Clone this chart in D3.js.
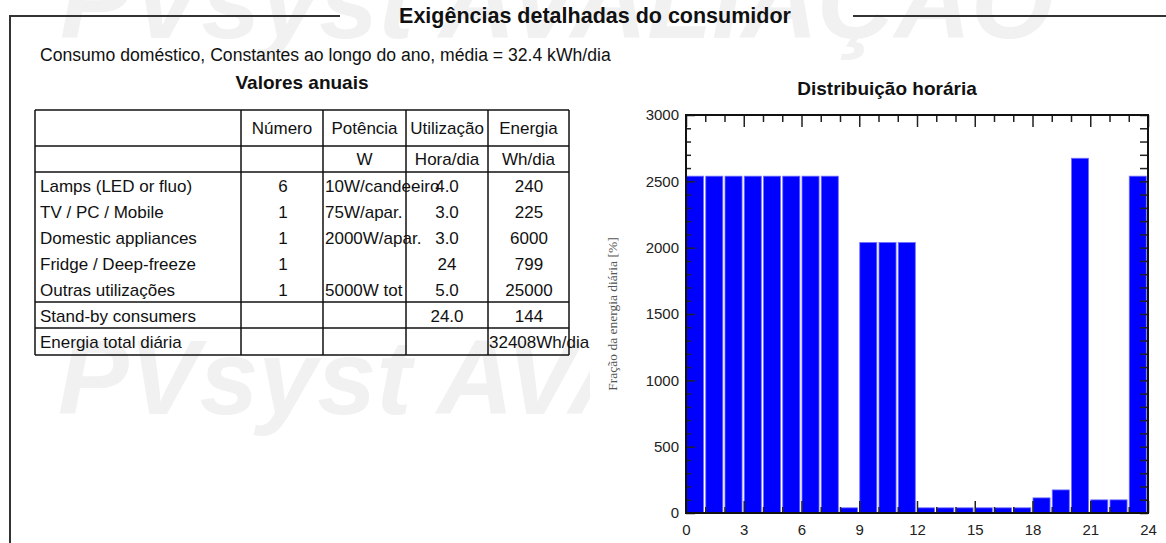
<!DOCTYPE html>
<html>
<head>
<meta charset="utf-8">
<script src="https://cdn.jsdelivr.net/npm/d3@7"></script>
<style>
  html, body { margin: 0; padding: 0; background: #fff; }
  svg { display: block; font-family: "Liberation Sans", Arial, sans-serif; }
</style>
</head>
<body>
<svg id="page" width="1166" height="543"></svg>
<script>
// Hourly consumption profile (values per hour of day)
const hours = d3.range(24);
const hourlyValues = [2539, 2539, 2539, 2539, 2539, 2539, 2539, 2539, 39, 2039, 2039, 2039,
                      39, 39, 39, 39, 39, 39, 114, 174, 2674, 99, 99, 2539];
const xTickValues = [0, 3, 6, 9, 12, 15, 18, 21, 24];
const yTickValues = [0, 500, 1000, 1500, 2000, 2500, 3000];

// Appliance table
const headerCols = ["", "Número", "Potência", "Utilização", "Energia"];
const unitCols = ["", "", "W", "Hora/dia", "Wh/dia"];
const appliances = ["Lamps (LED or fluo)", "TV / PC / Mobile", "Domestic appliances", "Fridge / Deep-freeze", "Outras utilizações"];
const counts = ["6", "1", "1", "1", "1"];
const powers = ["10W/candeeiro", "75W/apar.", "2000W/apar.", "", "5000W tot"];
const usageHours = ["4.0", "3.0", "3.0", "24", "5.0"];
const energies = ["240", "225", "6000", "799", "25000"];
const standby = { label: "Stand-by consumers", usage: "24.0", energy: "144" };
const total = { label: "Energia total diária", energy: "32408Wh/dia" };

const svg = d3.select("#page");
svg.append("rect").attr("width", 1166).attr("height", 543).attr("fill", "#fff");

// Faint background watermark
const wm = svg.append("g")
  .attr("font-size", 106).attr("font-weight", "bold").attr("font-style", "italic")
  .attr("fill", "#f1f1f1");
wm.append("text").attr("x", 60).attr("y", 38).text("PVsyst AVALIAÇÃO");
wm.append("text").attr("x", 58).attr("y", 414).text("PVsyst AVALIAÇÃO");

// Section frame with title
const frame = svg.append("g").attr("stroke", "#333").attr("stroke-width", 2).attr("fill", "none");
frame.append("path").attr("d", "M10,543 V16 H340");
frame.append("path").attr("d", "M853,16 H1166");
svg.append("text").attr("x", 595).attr("y", 23).attr("text-anchor", "middle")
  .attr("font-size", 21.5).attr("font-weight", "bold").attr("fill", "#111")
  .text("Exigências detalhadas do consumidor");

svg.append("text").attr("x", 40).attr("y", 61).attr("font-size", 17.6).attr("fill", "#111")
  .text("Consumo doméstico, Constantes ao longo do ano, média = 32.4 kWh/dia");

svg.append("text").attr("x", 302).attr("y", 89).attr("text-anchor", "middle")
  .attr("font-size", 19).attr("font-weight", "bold").attr("fill", "#111")
  .text("Valores anuais");

// ---- Table ----
const colX = [35, 241, 323, 406, 488, 569];
const rowY = [110, 146, 172, 302, 328, 355];
const tbl = svg.append("g").attr("font-size", 17).attr("fill", "#111");
const grid = tbl.append("g").attr("stroke", "#111").attr("stroke-width", 1.5);
rowY.forEach(y => grid.append("line").attr("x1", colX[0]).attr("x2", colX[5]).attr("y1", y).attr("y2", y));
colX.forEach(x => grid.append("line").attr("x1", x).attr("x2", x).attr("y1", rowY[0]).attr("y2", rowY[5]));

const colMid = i => (colX[i] + colX[i + 1]) / 2;
headerCols.forEach((t, i) => {
  if (t) tbl.append("text").attr("x", colMid(i)).attr("y", 134).attr("text-anchor", "middle").text(t);
});
unitCols.forEach((t, i) => {
  if (t) tbl.append("text").attr("x", colMid(i)).attr("y", 165).attr("text-anchor", "middle").text(t);
});
const rowBase = i => 192 + i * 26;
appliances.forEach((name, i) => {
  const y = rowBase(i);
  tbl.append("text").attr("x", 40).attr("y", y).text(name);
  tbl.append("text").attr("x", 283).attr("y", y).attr("text-anchor", "middle").text(counts[i]);
  tbl.append("text").attr("x", 325).attr("y", y).text(powers[i]);
  tbl.append("text").attr("x", 447).attr("y", y).attr("text-anchor", "middle").text(usageHours[i]);
  tbl.append("text").attr("x", 529).attr("y", y).attr("text-anchor", "middle").text(energies[i]);
});
tbl.append("text").attr("x", 40).attr("y", 322).text(standby.label);
tbl.append("text").attr("x", 447).attr("y", 322).attr("text-anchor", "middle").text(standby.usage);
tbl.append("text").attr("x", 529).attr("y", 322).attr("text-anchor", "middle").text(standby.energy);
tbl.append("text").attr("x", 40).attr("y", 348).text(total.label);
tbl.append("text").attr("x", 489).attr("y", 348).text(total.energy);

// ---- Hourly distribution chart ----
svg.append("rect").attr("x", 590).attr("y", 66).attr("width", 576).attr("height", 477).attr("fill", "#fff");
svg.append("text").attr("x", 887).attr("y", 95).attr("text-anchor", "middle")
  .attr("font-size", 19).attr("font-weight", "bold").attr("fill", "#111")
  .text("Distribuição horária");

const plot = { left: 686, right: 1148, top: 115, bottom: 513 };
const x = d3.scaleLinear().domain([0, 24]).range([plot.left, plot.right]);
const y = d3.scaleLinear().domain([0, 3000]).range([plot.bottom, plot.top]);

svg.append("g").selectAll("rect").data(hours).join("rect")
  .attr("x", h => x(h) + 0.5)
  .attr("width", h => x(h + 1) - x(h) - 2.2)
  .attr("y", h => y(hourlyValues[h]))
  .attr("height", h => y(0) - y(hourlyValues[h]))
  .attr("fill", "#0000ff")
  .attr("stroke", "#7070ff").attr("stroke-width", 0.8);

// Axes: inward ticks on all four sides
const minorX = d3.range(0, 25);
const minorY = d3.range(0, 3001, 100);
const bottomAxis = d3.axisBottom(x).tickValues(xTickValues).tickSizeInner(-12).tickSizeOuter(0).tickPadding(11).tickFormat(d3.format("d"));
const bottomMinor = d3.axisBottom(x).tickValues(minorX.filter(v => v % 3)).tickSizeInner(-6).tickSizeOuter(0).tickFormat("");
const topAxis = d3.axisTop(x).tickValues(xTickValues).tickSizeInner(-12).tickSizeOuter(0).tickFormat("");
const topMinor = d3.axisTop(x).tickValues(minorX.filter(v => v % 3)).tickSizeInner(-7).tickSizeOuter(0).tickFormat("");
const leftAxis = d3.axisLeft(y).tickValues(yTickValues).tickSizeInner(-9).tickSizeOuter(0).tickPadding(7).tickFormat(d3.format("d"));
const leftMinor = d3.axisLeft(y).tickValues(minorY.filter(v => v % 500)).tickSizeInner(-5).tickSizeOuter(0).tickFormat("");
const rightAxis = d3.axisRight(y).tickValues(minorY).tickSizeInner(-8).tickSizeOuter(0).tickFormat("");

const axes = svg.append("g").attr("class", "axes");
axes.append("g").attr("transform", `translate(0,${plot.bottom})`).call(bottomAxis);
axes.append("g").attr("transform", `translate(0,${plot.bottom})`).call(bottomMinor);
axes.append("g").attr("transform", `translate(0,${plot.top})`).call(topAxis);
axes.append("g").attr("transform", `translate(0,${plot.top})`).call(topMinor);
axes.append("g").attr("transform", `translate(${plot.left},0)`).call(leftAxis);
axes.append("g").attr("transform", `translate(${plot.left},0)`).call(leftMinor);
axes.append("g").attr("transform", `translate(${plot.right},0)`).call(rightAxis);
axes.selectAll(".domain").remove();
axes.selectAll(".tick line").attr("stroke", "#222").attr("stroke-width", 1.5);
axes.selectAll(".tick text").attr("font-family", "Liberation Sans, Arial, sans-serif")
  .attr("font-size", 15).attr("fill", "#222");

svg.append("rect").attr("x", plot.left).attr("y", plot.top)
  .attr("width", plot.right - plot.left).attr("height", plot.bottom - plot.top)
  .attr("fill", "none").attr("stroke", "#111").attr("stroke-width", 2);

svg.append("text")
  .attr("transform", `translate(617,${(plot.top + plot.bottom) / 2}) rotate(-90)`)
  .attr("text-anchor", "middle").attr("font-family", "Liberation Serif, Times New Roman, serif")
  .attr("font-size", 13.5).attr("fill", "#555")
  .text("Fração da energia diária [%]");
</script>
</body>
</html>
